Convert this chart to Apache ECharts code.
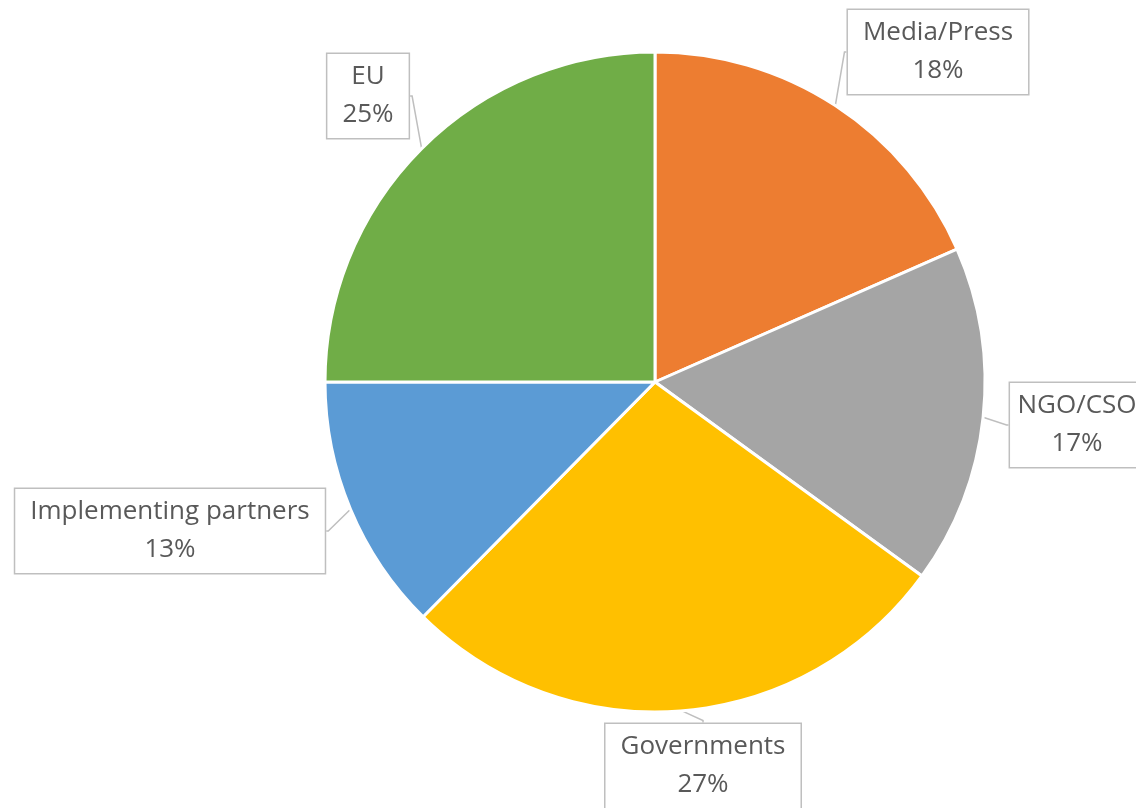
<!DOCTYPE html>
<html>
<head>
<meta charset="utf-8">
<script src="https://cdn.jsdelivr.net/npm/echarts@6/dist/echarts.min.js"></script>
<style>
html,body{margin:0;padding:0;background:#fff;}
#chart{width:1136px;height:808px;}
</style>
</head>
<body>
<div id="chart"></div>
<script>
var categories = ['Media/Press', 'NGO/CSO', 'Governments', 'Implementing partners', 'EU'];
var values = [18.4, 16.6, 27.4, 12.6, 25];
var colors = ['#ED7D31', '#A5A5A5', '#FFC000', '#5B9BD5', '#70AD47'];
// label box centres (layout only)
var labelPos = [[938, 52], [1077, 425], [703, 766], [170, 531], [368, 96]];

var chart = echarts.init(document.getElementById('chart'));
chart.setOption({
  animation: false,
  backgroundColor: '#ffffff',
  series: [{
    type: 'pie',
    center: [655, 382],
    radius: 330,
    startAngle: 90,
    clockwise: true,
    percentPrecision: 0,
    data: categories.map(function (c, i) {
      return { name: c, value: values[i], itemStyle: { color: colors[i] } };
    }),
    itemStyle: { borderColor: '#ffffff', borderWidth: 3 },
    label: {
      show: true,
      formatter: '{b}\n{d}%',
      fontFamily: 'Open Sans',
      fontSize: 26,
      lineHeight: 38,
      color: '#595959',
      align: 'center',
      overflow: 'none',
      backgroundColor: '#ffffff',
      borderColor: '#BFBFBF',
      borderWidth: 1.5,
      padding: [5, 15, 3, 15]
    },
    labelLine: {
      show: true,
      length: 2,
      length2: 2,
      lineStyle: { color: '#BFBFBF', width: 1.5 }
    },
    labelLayout: function (p) {
      var pos = labelPos[p.dataIndex];
      return { x: pos[0], y: pos[1], align: 'center', verticalAlign: 'middle', moveOverlap: false };
    },
    emphasis: { disabled: true }
  }]
});
</script>
</body>
</html>
